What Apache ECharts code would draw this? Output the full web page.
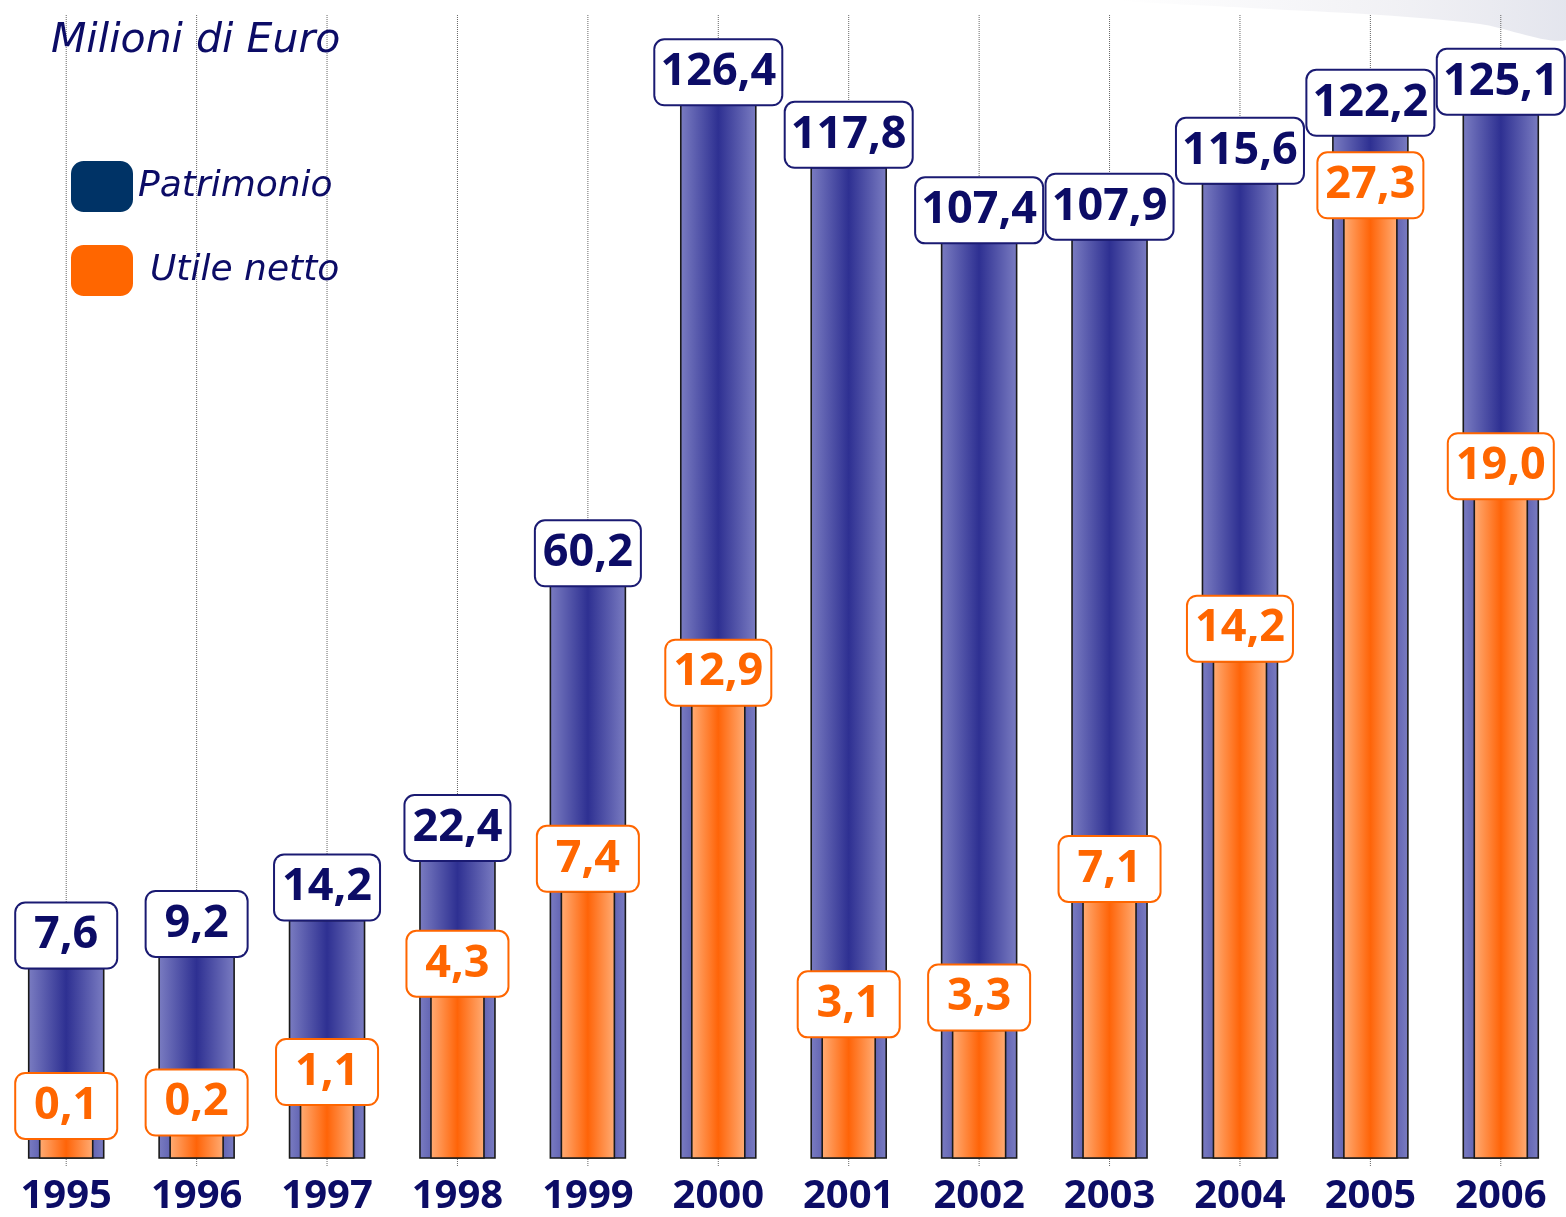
<!DOCTYPE html>
<html>
<head>
<meta charset="utf-8">
<script src="https://cdn.jsdelivr.net/npm/echarts@6/dist/echarts.min.js"></script>
<style>
html,body{margin:0;padding:0;background:#fff;}
#chart{width:1566px;height:1217px;}
</style>
</head>
<body>
<div id="chart"></div>
<script>
// ---- data ----
var years = ['1995','1996','1997','1998','1999','2000','2001','2002','2003','2004','2005','2006'];
var patrimonio = [7.6, 9.2, 14.2, 22.4, 60.2, 126.4, 117.8, 107.4, 107.9, 115.6, 122.2, 125.1];
var utileNetto = [0.1, 0.2, 1.1, 4.3, 7.4, 12.9, 3.1, 3.3, 7.1, 14.2, 27.3, 19.0];
var seriesNames = ['Patrimonio', 'Utile netto'];
var unitTitle = 'Milioni di Euro';

function fmt(v) { return v.toFixed(1).replace('.', ','); }

var NAVY = '#0c0c66';
var ORANGE = '#ff6600';
var NUMFONT = '"Open Sans", sans-serif';
var ITFONT = '"DejaVu Sans", sans-serif';

// value axes (the original chart's bars rise from a baseline below zero)
var BLUE_MIN = -18.5, BLUE_MAX = 138.8;
var ORANGE_MIN = -0.47, ORANGE_MAX = 33.3;

var blueGrad = new echarts.graphic.LinearGradient(0, 0, 1, 0, [
  {offset: 0, color: '#7b7dc2'},
  {offset: 0.5, color: '#2e3092'},
  {offset: 1, color: '#7b7dc2'}
]);
var orangeGrad = new echarts.graphic.LinearGradient(0, 0, 1, 0, [
  {offset: 0, color: '#ffad76'},
  {offset: 0.5, color: '#ff6408'},
  {offset: 1, color: '#ffad76'}
]);

function makeRender(barW, fill, axisMin, textColor, boxColor, drawGuide) {
  return function (params, api) {
    var idx = api.value(0);
    var v = api.value(1);
    var top = api.coord([idx, v]);
    var bot = api.coord([idx, axisMin]);
    var cs = params.coordSys;
    var txt = fmt(v);
    var boxW = txt.length > 4 ? 112 : (txt.length > 3 ? 90 : 86);
    var children = [];
    if (drawGuide) {
      children.push({
        type: 'line',
        shape: {x1: top[0], y1: cs.y, x2: top[0], y2: cs.y + cs.height + 8},
        style: {stroke: '#666', lineWidth: 1, lineDash: [1, 1]},
        silent: true
      });
    }
    children.push({
      type: 'rect',
      shape: {x: top[0] - barW / 2, y: top[1], width: barW, height: bot[1] - top[1]},
      style: {fill: fill, stroke: '#1a1a1a', lineWidth: 1.6},
      textContent: {
        style: {
          text: txt,
          fontFamily: NUMFONT, fontSize: 45, fontWeight: 'bold', fill: textColor,
          backgroundColor: '#fff', borderColor: boxColor, borderWidth: 2, borderRadius: 9,
          padding: [8, 7], lineHeight: 48, width: boxW, align: 'center'
        }
      },
      textConfig: {position: 'top', distance: 0}
    });
    return {type: 'group', children: children};
  };
}

var chart = echarts.init(document.getElementById('chart'));
chart.setOption({
  animation: false,
  backgroundColor: '#ffffff',
  graphic: [{
    type: 'polygon',
    silent: true,
    z: -10,
    shape: {points: [[1120, 0], [1250, 8], [1380, 15], [1480, 24], [1566, 40], [1566, 0]], smooth: 0.3},
    style: {
      fill: new echarts.graphic.LinearGradient(0, 0, 1, 0, [
        {offset: 0, color: 'rgba(232,232,238,0)'},
        {offset: 0.6, color: 'rgba(232,232,238,0.6)'},
        {offset: 1, color: 'rgba(222,224,234,0.85)'}
      ])
    }
  }],
  title: {
    text: unitTitle,
    left: 51, top: 21, padding: 0,
    textStyle: {fontFamily: ITFONT, fontStyle: 'italic', fontWeight: 'normal', fontSize: 41, color: NAVY}
  },
  legend: {
    orient: 'vertical',
    left: 71, top: 161, padding: 0,
    itemWidth: 62, itemHeight: 51, itemGap: 33,
    icon: 'roundRect',
    textStyle: {fontFamily: ITFONT, fontStyle: 'italic', fontSize: 36, color: NAVY},
    data: [
      {name: seriesNames[0], itemStyle: {color: '#003366', borderWidth: 0}},
      {name: seriesNames[1], itemStyle: {color: ORANGE, borderWidth: 0}, textStyle: {padding: [0, 0, 0, 12]}}
    ]
  },
  grid: {left: 1, right: 0, top: 15, bottom: 54, containLabel: false},
  xAxis: {
    type: 'category', data: years,
    axisLine: {show: false},
    axisTick: {show: false},
    axisLabel: {fontFamily: NUMFONT, fontSize: 40, fontWeight: 'bold', color: NAVY, margin: 19},
    splitLine: {show: false}
  },
  yAxis: [
    {type: 'value', min: BLUE_MIN, max: BLUE_MAX, show: false, splitLine: {show: false}},
    {type: 'value', min: ORANGE_MIN, max: ORANGE_MAX, show: false, splitLine: {show: false}}
  ],
  series: [
    {
      name: seriesNames[0],
      type: 'custom',
      xAxisIndex: 0, yAxisIndex: 0,
      itemStyle: {color: '#003366'},
      data: patrimonio.map(function (v, i) { return [i, v]; }),
      renderItem: makeRender(75, blueGrad, BLUE_MIN, NAVY, '#1a1a72', true)
    },
    {
      name: seriesNames[1],
      type: 'custom',
      xAxisIndex: 0, yAxisIndex: 1,
      itemStyle: {color: ORANGE},
      data: utileNetto.map(function (v, i) { return [i, v]; }),
      renderItem: makeRender(53, orangeGrad, ORANGE_MIN, ORANGE, ORANGE, false)
    }
  ]
});
</script>
</body>
</html>
